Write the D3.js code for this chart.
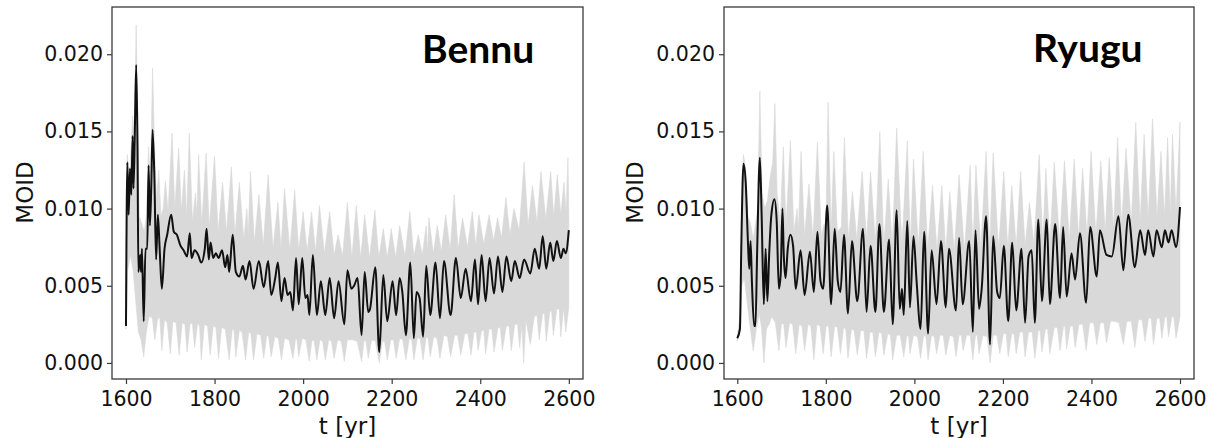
<!DOCTYPE html>
<html>
<head>
<meta charset="utf-8">
<script src="https://cdn.jsdelivr.net/npm/d3@7"></script>
<style>
html,body{margin:0;padding:0;background:#fff;}
svg{display:block;}
svg text.dv{font-family:"DejaVu Sans",sans-serif;}
svg text.ttl{font-family:Lato,"Open Sans",sans-serif;font-weight:bold;}
</style>
</head>
<body>
<svg id="chart" width="1210" height="438"></svg>
<script>
// ---- axis ticks ----
const xTicks = [1600, 1800, 2000, 2200, 2400, 2600];
const yTicks = [0, 0.005, 0.010, 0.015, 0.020];
const yTickLabels = ["0.000", "0.005", "0.010", "0.015", "0.020"];
const panelTitles = ["Bennu", "Ryugu"];
const xLabel = "t [yr]";
const yLabel = "MOID";

// ---- Bennu: nominal MOID [year, MOID] ----
const bennuLine = [[1600,0.0024],[1603,0.0130],[1606,0.0096],[1609,0.0126],[1612,0.0109],[1615,0.0147],[1617,0.0113],[1620,0.0150],[1623,0.0193],[1626,0.0139],[1628,0.0059],[1632,0.0070],[1634,0.0059],[1636,0.0074],[1640,0.0027],[1644,0.0074],[1648,0.0074],[1651,0.0128],[1654,0.0089],[1657,0.0113],[1660,0.0151],[1664,0.0122],[1668,0.0067],[1672,0.0096],[1676,0.0074],[1681,0.0048],[1687,0.0074],[1693,0.0083],[1702,0.0096],[1708,0.0085],[1715,0.0083],[1723,0.0076],[1730,0.0073],[1738,0.0069],[1744,0.0084],[1748,0.0068],[1755,0.0073],[1763,0.0070],[1770,0.0065],[1778,0.0074],[1782,0.0087],[1787,0.0067],[1791,0.0078],[1797,0.0068],[1803,0.0071],[1809,0.0068],[1817,0.0073],[1824,0.0062],[1829,0.0070],[1833,0.0059],[1841,0.0083],[1848,0.0059],[1856,0.0056],[1864,0.0063],[1870,0.0054],[1879,0.0066],[1888,0.0048],[1900,0.0066],[1911,0.0049],[1921,0.0066],[1928,0.0044],[1937,0.0055],[1943,0.0065],[1951,0.0040],[1958,0.0055],[1965,0.0044],[1971,0.0046],[1977,0.0034],[1984,0.0068],[1990,0.0038],[1998,0.0068],[2005,0.0042],[2010,0.0044],[2014,0.0031],[2022,0.0070],[2031,0.0031],[2040,0.0053],[2050,0.0031],[2060,0.0055],[2070,0.0029],[2080,0.0053],[2093,0.0025],[2100,0.0060],[2109,0.0048],[2115,0.0050],[2123,0.0055],[2132,0.0018],[2139,0.0059],[2147,0.0033],[2151,0.0035],[2163,0.0062],[2172,0.0007],[2181,0.0057],[2190,0.0027],[2202,0.0053],[2210,0.0031],[2218,0.0055],[2224,0.0046],[2232,0.0018],[2242,0.0065],[2250,0.0016],[2256,0.0046],[2263,0.0042],[2271,0.0017],[2278,0.0063],[2287,0.0031],[2299,0.0065],[2309,0.0029],[2318,0.0066],[2333,0.0031],[2345,0.0068],[2356,0.0042],[2367,0.0061],[2379,0.0040],[2388,0.0067],[2395,0.0038],[2403,0.0070],[2412,0.0040],[2421,0.0068],[2431,0.0045],[2440,0.0069],[2450,0.0046],[2459,0.0069],[2470,0.0053],[2478,0.0066],[2489,0.0055],[2499,0.0067],[2513,0.0058],[2523,0.0074],[2533,0.0061],[2541,0.0082],[2549,0.0061],[2558,0.0078],[2565,0.0066],[2573,0.0079],[2582,0.0068],[2588,0.0074],[2593,0.0071],[2600,0.0086]];

// ---- Bennu: clone spread, upper edge ----
const bennuHi = [[1600,0.0030],[1603,0.0135],[1608,0.0120],[1615,0.0160],[1619,0.0150],[1623,0.0219],[1627,0.0150],[1630,0.0095],[1636,0.0090],[1641,0.0085],[1646,0.0095],[1651,0.0140],[1655,0.0115],[1660,0.0191],[1665,0.0135],[1669,0.0105],[1674,0.0125],[1679,0.0095],[1684,0.0100],[1689,0.0118],[1695,0.0098],[1704,0.0149],[1710,0.0100],[1719,0.0139],[1725,0.0098],[1732,0.0125],[1737,0.0095],[1743,0.0149],[1750,0.0092],[1757,0.0110],[1760,0.0095],[1764,0.0135],[1771,0.0090],[1781,0.0136],[1788,0.0088],[1800,0.0134],[1808,0.0085],[1818,0.0117],[1827,0.0085],[1838,0.0127],[1846,0.0083],[1856,0.0117],[1866,0.0080],[1873,0.0100],[1876,0.0082],[1881,0.0124],[1890,0.0078],[1900,0.0109],[1910,0.0076],[1921,0.0122],[1932,0.0074],[1943,0.0104],[1950,0.0074],[1958,0.0113],[1970,0.0073],[1981,0.0112],[1990,0.0073],[2000,0.0098],[2009,0.0072],[2019,0.0098],[2028,0.0072],[2037,0.0102],[2048,0.0071],[2060,0.0098],[2070,0.0070],[2079,0.0083],[2089,0.0069],[2100,0.0104],[2110,0.0068],[2120,0.0102],[2130,0.0068],[2139,0.0096],[2150,0.0068],[2162,0.0099],[2171,0.0068],[2181,0.0087],[2190,0.0068],[2199,0.0087],[2209,0.0068],[2218,0.0089],[2230,0.0069],[2241,0.0098],[2250,0.0069],[2260,0.0083],[2269,0.0070],[2278,0.0089],[2281,0.0071],[2284,0.0094],[2294,0.0071],[2303,0.0089],[2312,0.0072],[2322,0.0096],[2332,0.0073],[2341,0.0109],[2350,0.0074],[2360,0.0094],[2371,0.0075],[2382,0.0098],[2390,0.0076],[2397,0.0096],[2408,0.0077],[2420,0.0096],[2430,0.0079],[2439,0.0094],[2448,0.0081],[2458,0.0107],[2467,0.0083],[2476,0.0100],[2488,0.0086],[2499,0.0130],[2508,0.0089],[2518,0.0115],[2528,0.0091],[2537,0.0124],[2548,0.0093],[2559,0.0124],[2566,0.0095],[2574,0.0122],[2582,0.0096],[2589,0.0117],[2594,0.0097],[2598,0.0133],[2600,0.0096]];

// ---- Bennu: clone spread, lower edge ----
const bennuLo = [[1600,0.0022],[1604,0.0060],[1610,0.0070],[1616,0.0060],[1622,0.0040],[1628,0.0020],[1634,0.0015],[1640,0.0004],[1646,0.0020],[1652,0.0030],[1657,0.0030],[1660,0.0028],[1665,0.0015],[1671,0.0028],[1676,0.0030],[1681,0.0008],[1687,0.0028],[1693,0.0026],[1700,0.0006],[1706,0.0027],[1713,0.0026],[1720,0.0005],[1727,0.0026],[1733,0.0025],[1738,0.0007],[1745,0.0026],[1750,0.0025],[1755,0.0010],[1762,0.0026],[1766,0.0024],[1770,0.0002],[1777,0.0025],[1784,0.0024],[1790,0.0005],[1797,0.0024],[1803,0.0023],[1809,0.0003],[1816,0.0023],[1824,0.0022],[1833,0.0002],[1840,0.0022],[1844,0.0021],[1848,0.0004],[1856,0.0021],[1862,0.0020],[1870,0.0002],[1877,0.0020],[1882,0.0019],[1888,0.0002],[1896,0.0019],[1904,0.0018],[1911,0.0003],[1918,0.0018],[1922,0.0017],[1928,0.0004],[1936,0.0017],[1944,0.0016],[1951,0.0002],[1958,0.0016],[1968,0.0015],[1977,0.0003],[1983,0.0016],[1986,0.0015],[1990,0.0004],[1998,0.0016],[2006,0.0015],[2014,0.0001],[2020,0.0015],[2025,0.0014],[2031,0.0002],[2038,0.0015],[2044,0.0014],[2050,0.0002],[2058,0.0015],[2064,0.0014],[2070,0.0003],[2078,0.0015],[2086,0.0014],[2093,0.0001],[2100,0.0015],[2112,0.0015],[2122,0.0014],[2132,0.0001],[2138,0.0015],[2142,0.0014],[2147,0.0003],[2155,0.0015],[2163,0.0014],[2172,0.0000],[2179,0.0014],[2184,0.0014],[2190,0.0002],[2198,0.0015],[2204,0.0015],[2210,0.0003],[2218,0.0016],[2225,0.0015],[2232,0.0002],[2240,0.0016],[2245,0.0015],[2250,0.0002],[2258,0.0016],[2264,0.0016],[2271,0.0002],[2278,0.0017],[2282,0.0016],[2287,0.0004],[2295,0.0017],[2302,0.0016],[2309,0.0003],[2318,0.0018],[2326,0.0017],[2333,0.0004],[2342,0.0018],[2349,0.0018],[2356,0.0005],[2365,0.0019],[2372,0.0019],[2379,0.0005],[2386,0.0020],[2391,0.0020],[2395,0.0008],[2403,0.0021],[2408,0.0021],[2412,0.0006],[2420,0.0022],[2426,0.0022],[2431,0.0007],[2440,0.0023],[2445,0.0023],[2450,0.0008],[2459,0.0024],[2465,0.0024],[2470,0.0008],[2478,0.0025],[2484,0.0025],[2489,0.0010],[2494,0.0025],[2498,0.0000],[2503,0.0028],[2513,0.0012],[2522,0.0030],[2528,0.0031],[2533,0.0015],[2541,0.0032],[2545,0.0032],[2549,0.0014],[2557,0.0033],[2561,0.0034],[2565,0.0018],[2573,0.0035],[2578,0.0035],[2582,0.0017],[2588,0.0036],[2593,0.0020],[2600,0.0036]];

// ---- Ryugu: nominal MOID ----
const ryuguLine = [[1600,0.0016],[1606,0.0022],[1609,0.0074],[1614,0.0129],[1619,0.0117],[1624,0.0079],[1627,0.0061],[1630,0.0079],[1633,0.0053],[1638,0.0024],[1641,0.0024],[1645,0.0074],[1651,0.0133],[1655,0.0096],[1660,0.0038],[1664,0.0074],[1668,0.0040],[1672,0.0070],[1677,0.0096],[1684,0.0106],[1689,0.0092],[1694,0.0048],[1698,0.0057],[1702,0.0100],[1705,0.0070],[1709,0.0055],[1714,0.0074],[1720,0.0083],[1726,0.0076],[1732,0.0048],[1743,0.0073],[1752,0.0044],[1764,0.0072],[1773,0.0046],[1781,0.0085],[1788,0.0053],[1794,0.0048],[1803,0.0102],[1812,0.0038],[1820,0.0087],[1827,0.0053],[1833,0.0046],[1841,0.0083],[1850,0.0032],[1859,0.0079],[1871,0.0040],[1884,0.0087],[1892,0.0033],[1901,0.0076],[1912,0.0033],[1921,0.0090],[1931,0.0033],[1943,0.0080],[1951,0.0025],[1960,0.0099],[1967,0.0035],[1972,0.0048],[1976,0.0031],[1984,0.0092],[1990,0.0036],[1998,0.0082],[2005,0.0053],[2014,0.0022],[2022,0.0085],[2031,0.0019],[2039,0.0073],[2050,0.0038],[2060,0.0079],[2071,0.0036],[2078,0.0074],[2094,0.0034],[2101,0.0081],[2109,0.0038],[2124,0.0079],[2132,0.0020],[2138,0.0086],[2146,0.0035],[2152,0.0048],[2162,0.0095],[2171,0.0012],[2178,0.0082],[2187,0.0046],[2193,0.0042],[2202,0.0076],[2212,0.0027],[2221,0.0078],[2230,0.0034],[2242,0.0074],[2250,0.0026],[2258,0.0069],[2265,0.0073],[2272,0.0026],[2280,0.0093],[2288,0.0040],[2299,0.0093],[2306,0.0038],[2318,0.0090],[2329,0.0042],[2336,0.0088],[2344,0.0043],[2355,0.0071],[2363,0.0054],[2374,0.0084],[2388,0.0039],[2397,0.0088],[2412,0.0056],[2419,0.0086],[2434,0.0070],[2446,0.0069],[2461,0.0095],[2472,0.0060],[2483,0.0096],[2498,0.0062],[2510,0.0086],[2521,0.0070],[2528,0.0086],[2540,0.0069],[2547,0.0086],[2559,0.0075],[2566,0.0086],[2574,0.0078],[2581,0.0086],[2591,0.0075],[2600,0.0101]];

// ---- Ryugu: clone spread, upper edge ----
const ryuguHi = [[1600,0.0018],[1606,0.0030],[1610,0.0085],[1614,0.0135],[1619,0.0125],[1624,0.0095],[1630,0.0090],[1636,0.0080],[1641,0.0090],[1646,0.0100],[1651,0.0176],[1656,0.0110],[1662,0.0100],[1668,0.0105],[1674,0.0120],[1680,0.0130],[1685,0.0168],[1690,0.0110],[1697,0.0090],[1704,0.0140],[1710,0.0088],[1720,0.0144],[1728,0.0085],[1735,0.0100],[1738,0.0085],[1744,0.0137],[1752,0.0082],[1762,0.0116],[1771,0.0080],[1781,0.0143],[1790,0.0082],[1796,0.0090],[1800,0.0085],[1805,0.0169],[1812,0.0085],[1818,0.0137],[1826,0.0085],[1835,0.0088],[1842,0.0146],[1851,0.0080],[1860,0.0111],[1870,0.0080],[1882,0.0124],[1892,0.0080],[1901,0.0124],[1912,0.0078],[1922,0.0150],[1931,0.0076],[1941,0.0119],[1950,0.0076],[1960,0.0152],[1972,0.0076],[1984,0.0144],[1991,0.0076],[1998,0.0132],[2009,0.0075],[2020,0.0137],[2030,0.0074],[2041,0.0115],[2051,0.0073],[2062,0.0115],[2071,0.0072],[2080,0.0111],[2090,0.0072],[2101,0.0122],[2113,0.0072],[2126,0.0128],[2132,0.0074],[2139,0.0128],[2150,0.0074],[2162,0.0137],[2170,0.0075],[2178,0.0136],[2190,0.0074],[2202,0.0124],[2211,0.0074],[2220,0.0115],[2230,0.0075],[2240,0.0124],[2250,0.0076],[2260,0.0104],[2270,0.0077],[2282,0.0135],[2290,0.0078],[2297,0.0126],[2306,0.0078],[2316,0.0130],[2328,0.0079],[2339,0.0131],[2350,0.0080],[2361,0.0132],[2371,0.0081],[2380,0.0126],[2390,0.0082],[2399,0.0137],[2410,0.0083],[2421,0.0131],[2431,0.0085],[2440,0.0133],[2450,0.0087],[2459,0.0146],[2468,0.0089],[2478,0.0139],[2490,0.0090],[2500,0.0156],[2510,0.0092],[2519,0.0148],[2528,0.0093],[2538,0.0158],[2548,0.0094],[2557,0.0137],[2565,0.0095],[2572,0.0146],[2578,0.0096],[2583,0.0148],[2591,0.0097],[2600,0.0156]];

// ---- Ryugu: clone spread, lower edge ----
const ryuguLo = [[1600,0.0014],[1605,0.0020],[1610,0.0050],[1616,0.0055],[1622,0.0040],[1628,0.0025],[1636,0.0008],[1643,0.0022],[1650,0.0032],[1655,0.0022],[1660,0.0000],[1666,0.0022],[1672,0.0025],[1678,0.0030],[1686,0.0026],[1694,0.0008],[1700,0.0026],[1705,0.0025],[1710,0.0010],[1718,0.0026],[1725,0.0025],[1732,0.0006],[1740,0.0025],[1746,0.0024],[1752,0.0008],[1760,0.0025],[1766,0.0024],[1773,0.0002],[1780,0.0025],[1787,0.0024],[1794,0.0006],[1801,0.0024],[1806,0.0024],[1812,0.0004],[1820,0.0024],[1826,0.0023],[1833,0.0006],[1840,0.0023],[1845,0.0022],[1850,0.0003],[1858,0.0022],[1864,0.0021],[1871,0.0005],[1879,0.0021],[1886,0.0021],[1892,0.0003],[1900,0.0020],[1906,0.0020],[1912,0.0004],[1920,0.0020],[1926,0.0019],[1931,0.0005],[1940,0.0019],[1946,0.0018],[1951,0.0002],[1960,0.0018],[1968,0.0018],[1976,0.0004],[1983,0.0018],[1987,0.0017],[1990,0.0006],[1998,0.0018],[2007,0.0017],[2014,0.0003],[2021,0.0018],[2026,0.0017],[2031,0.0002],[2039,0.0018],[2045,0.0017],[2050,0.0006],[2058,0.0018],[2065,0.0018],[2071,0.0005],[2080,0.0018],[2088,0.0017],[2094,0.0004],[2101,0.0018],[2106,0.0018],[2110,0.0008],[2118,0.0018],[2126,0.0018],[2132,0.0002],[2138,0.0018],[2142,0.0018],[2146,0.0006],[2155,0.0018],[2164,0.0017],[2171,0.0000],[2178,0.0018],[2186,0.0018],[2193,0.0006],[2201,0.0019],[2207,0.0019],[2212,0.0004],[2220,0.0019],[2225,0.0019],[2230,0.0006],[2238,0.0020],[2245,0.0020],[2250,0.0004],[2258,0.0020],[2266,0.0020],[2272,0.0003],[2280,0.0021],[2284,0.0021],[2288,0.0007],[2296,0.0022],[2301,0.0022],[2306,0.0006],[2316,0.0023],[2323,0.0023],[2329,0.0008],[2337,0.0024],[2340,0.0024],[2344,0.0009],[2352,0.0024],[2358,0.0024],[2363,0.0010],[2372,0.0025],[2380,0.0025],[2388,0.0008],[2396,0.0026],[2405,0.0026],[2412,0.0012],[2420,0.0026],[2428,0.0026],[2434,0.0013],[2443,0.0027],[2452,0.0027],[2462,0.0026],[2472,0.0012],[2480,0.0027],[2490,0.0027],[2498,0.0010],[2506,0.0028],[2514,0.0028],[2521,0.0014],[2529,0.0029],[2535,0.0029],[2540,0.0012],[2548,0.0029],[2554,0.0029],[2559,0.0016],[2566,0.0030],[2570,0.0030],[2574,0.0017],[2582,0.0030],[2586,0.0030],[2591,0.0016],[2600,0.0030]];

// ---- drawing ----
const svg = d3.select("#chart");
const panels = [
  {title: panelTitles[0], line: bennuLine, hi: bennuHi, lo: bennuLo,
   left: 112, right: 583, xDom: [1568.4, 2632], titleX: 422, titleY: 63, labelX: 33},
  {title: panelTitles[1], line: ryuguLine, hi: ryuguHi, lo: ryuguLo,
   left: 724, right: 1194, xDom: [1570, 2631.6], titleX: 1033, titleY: 62, labelX: 643}
];
const plotTop = 7, plotBottom = 379;

panels.forEach((p, i) => {
  const x = d3.scaleLinear().domain(p.xDom).range([p.left, p.right]);
  const y = d3.scaleLinear().domain([-0.00104, 0.02306]).range([plotBottom, plotTop]);
  const g = svg.append("g");

  const clipId = "clip" + i;
  svg.append("clipPath").attr("id", clipId)
    .append("rect").attr("x", p.left).attr("y", plotTop)
    .attr("width", p.right - p.left).attr("height", plotBottom - plotTop);

  const bandGen = d3.line().x(d => x(d[0])).y(d => y(d[1]));
  const poly = p.hi.concat(p.lo.slice().reverse());
  g.append("path")
    .attr("clip-path", `url(#${clipId})`)
    .attr("d", bandGen(poly) + "Z")
    .attr("fill", "#d9d9d9")
    .attr("stroke", "#d9d9d9")
    .attr("stroke-width", 0.6);

  const lineGen = d3.line().x(d => x(d[0])).y(d => y(d[1])).curve(d3.curveMonotoneX);
  g.append("path")
    .attr("clip-path", `url(#${clipId})`)
    .attr("d", lineGen(p.line))
    .attr("fill", "none")
    .attr("stroke", "#111")
    .attr("stroke-width", 2)
    .attr("stroke-linejoin", "round");

  // frame
  g.append("rect")
    .attr("x", p.left).attr("y", plotTop)
    .attr("width", p.right - p.left).attr("height", plotBottom - plotTop)
    .attr("fill", "none").attr("stroke", "#3a3a3a").attr("stroke-width", 1.3);

  // axes
  const xAxis = d3.axisBottom(x).tickValues(xTicks).tickFormat(d3.format("d"))
    .tickSize(5).tickPadding(7);
  const gx = g.append("g").attr("transform", `translate(0,${plotBottom})`).call(xAxis);
  const yAxis = d3.axisLeft(y).tickValues(yTicks)
    .tickFormat((d, k) => yTickLabels[k]).tickSize(5).tickPadding(4);
  const gy = g.append("g").attr("transform", `translate(${p.left},0)`).call(yAxis);
  [gx, gy].forEach(a => {
    a.attr("font-family", null).attr("font-size", null);
    a.select(".domain").remove();
    a.selectAll(".tick line").attr("stroke", "#3a3a3a").attr("stroke-width", 1.2);
    a.selectAll(".tick text").attr("class", "dv").attr("fill", "#111")
      .style("font-size", "20.5px");
  });

  // axis labels
  g.append("text").attr("class", "dv")
    .attr("x", (p.left + p.right) / 2).attr("y", 434)
    .attr("text-anchor", "middle")
    .style("font-size", "23px").attr("fill", "#111")
    .text(xLabel);
  g.append("text").attr("class", "dv")
    .attr("transform", `translate(${p.labelX},192.5) rotate(-90)`)
    .attr("text-anchor", "middle")
    .style("font-size", "23px").attr("fill", "#111")
    .text(yLabel);

  // panel title
  g.append("text").attr("class", "ttl")
    .attr("x", p.titleX).attr("y", p.titleY)
    .style("font-size", "39px").attr("fill", "#000")
    .text(p.title);
});
</script>
</body>
</html>
